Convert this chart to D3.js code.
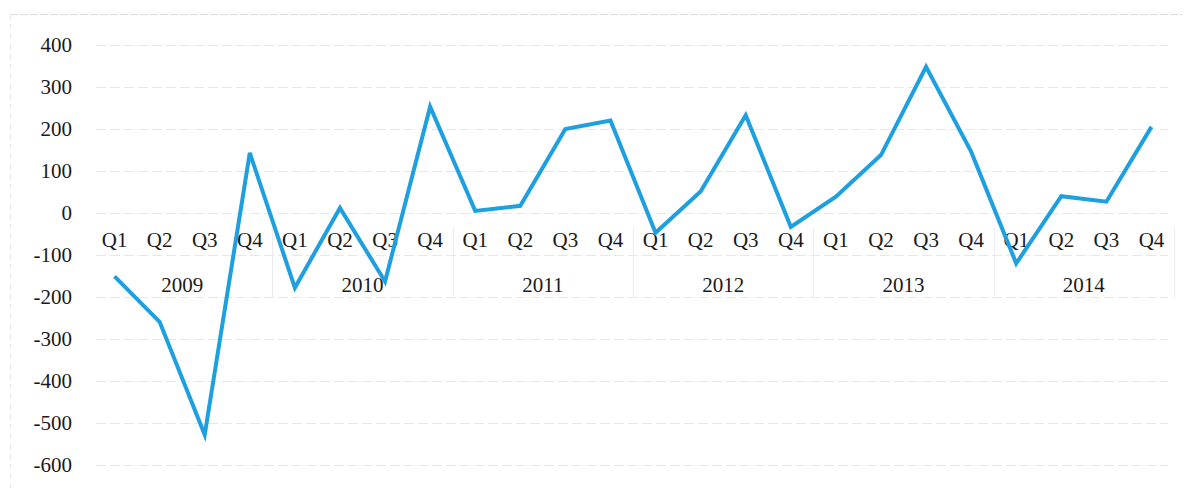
<!DOCTYPE html>
<html>
<head>
<meta charset="utf-8">
<script src="https://cdn.jsdelivr.net/npm/d3@7"></script>
<style>
  html, body { margin: 0; padding: 0; background: #fff; }
  svg { display: block; }
</style>
</head>
<body>
<svg id="chart" width="1190" height="488"></svg>
<script>
// Quarterly series, 2009–2014
const years = ["2009", "2010", "2011", "2012", "2013", "2014"];
const quarters = ["Q1", "Q2", "Q3", "Q4"];
const values = [
  -151, -259, -528, 143,
  -178, 12, -163, 253,
  5, 17, 200, 220,
  -47, 51, 233, -33,
  39, 138, 348, 146,
  -120, 40, 27, 205
];
const yTicks = [400, 300, 200, 100, 0, -100, -200, -300, -400, -500, -600];

const svg = d3.select("#chart");
const left = 92, right = 1174;
const font = "'Liberation Serif', 'Times New Roman', serif";

const points = values.map((v, i) => ({
  key: years[Math.floor(i / 4)] + "-" + quarters[i % 4],
  year: years[Math.floor(i / 4)],
  q: quarters[i % 4],
  v
}));

const x = d3.scaleBand().domain(points.map(d => d.key)).range([left, right]);
const y = d3.scaleLinear().domain([-600, 400]).range([465, 45]);

// chart-area frame (top and left edges)
svg.append("line")
  .attr("x1", 10).attr("x2", 1182).attr("y1", 14.5).attr("y2", 14.5)
  .attr("stroke", "#dcdcdc").attr("stroke-dasharray", "8,2");
svg.append("line")
  .attr("x1", 10.5).attr("x2", 10.5).attr("y1", 14).attr("y2", 488)
  .attr("stroke", "#e6e6e6").attr("stroke-dasharray", "5,5");

// horizontal gridlines
svg.append("g")
  .selectAll("line")
  .data(yTicks)
  .join("line")
  .attr("x1", left + 4).attr("x2", right - 6)
  .attr("y1", d => Math.round(y(d)) + 0.5)
  .attr("y2", d => Math.round(y(d)) + 0.5)
  .attr("stroke", "#e8e8e8")
  .attr("stroke-dasharray", "10,4");

// y-axis labels
const yAxis = d3.axisLeft(y).tickValues(yTicks).tickSize(0).tickPadding(0)
  .tickFormat(d => d3.format("d")(d).replace("−", "-"));
const gy = svg.append("g").attr("transform", "translate(72,0)").call(yAxis);
gy.select(".domain").remove();
gy.selectAll("text")
  .attr("font-family", font)
  .attr("font-size", 21)
  .attr("fill", "#1a1a1a");

// year separators on the category axis
const yearBounds = d3.range(1, years.length + 1).map(i => i === years.length
  ? right : x(points[i * 4].key));
svg.append("g")
  .selectAll("line")
  .data(yearBounds)
  .join("line")
  .attr("x1", d => Math.round(d) + 0.5).attr("x2", d => Math.round(d) + 0.5)
  .attr("y1", 228).attr("y2", 298)
  .attr("stroke", "#ececec");

// quarter labels
const xAxis = d3.axisBottom(x).tickSize(0).tickPadding(0).tickFormat(k => k.split("-")[1]);
const gx = svg.append("g").attr("transform", "translate(0,232)").call(xAxis);
gx.select(".domain").remove();
gx.selectAll("text")
  .attr("dy", "0.71em")
  .attr("font-family", font)
  .attr("font-size", 21)
  .attr("fill", "#1a1a1a");

// year labels
svg.append("g")
  .selectAll("text")
  .data(years)
  .join("text")
  .attr("x", (d, i) => (x(points[i * 4].key) + x(points[i * 4 + 3].key) + x.bandwidth()) / 2)
  .attr("y", 292)
  .attr("text-anchor", "middle")
  .attr("font-family", font)
  .attr("font-size", 21)
  .attr("fill", "#1a1a1a")
  .text(d => d);

// series line
const line = d3.line()
  .x(d => x(d.key) + x.bandwidth() / 2)
  .y(d => y(d.v));
svg.append("path")
  .datum(points)
  .attr("d", line)
  .attr("fill", "none")
  .attr("stroke", "#1e9fdf")
  .attr("stroke-width", 4)
  .attr("stroke-linejoin", "miter")
  .attr("stroke-linecap", "butt");
</script>
</body>
</html>
